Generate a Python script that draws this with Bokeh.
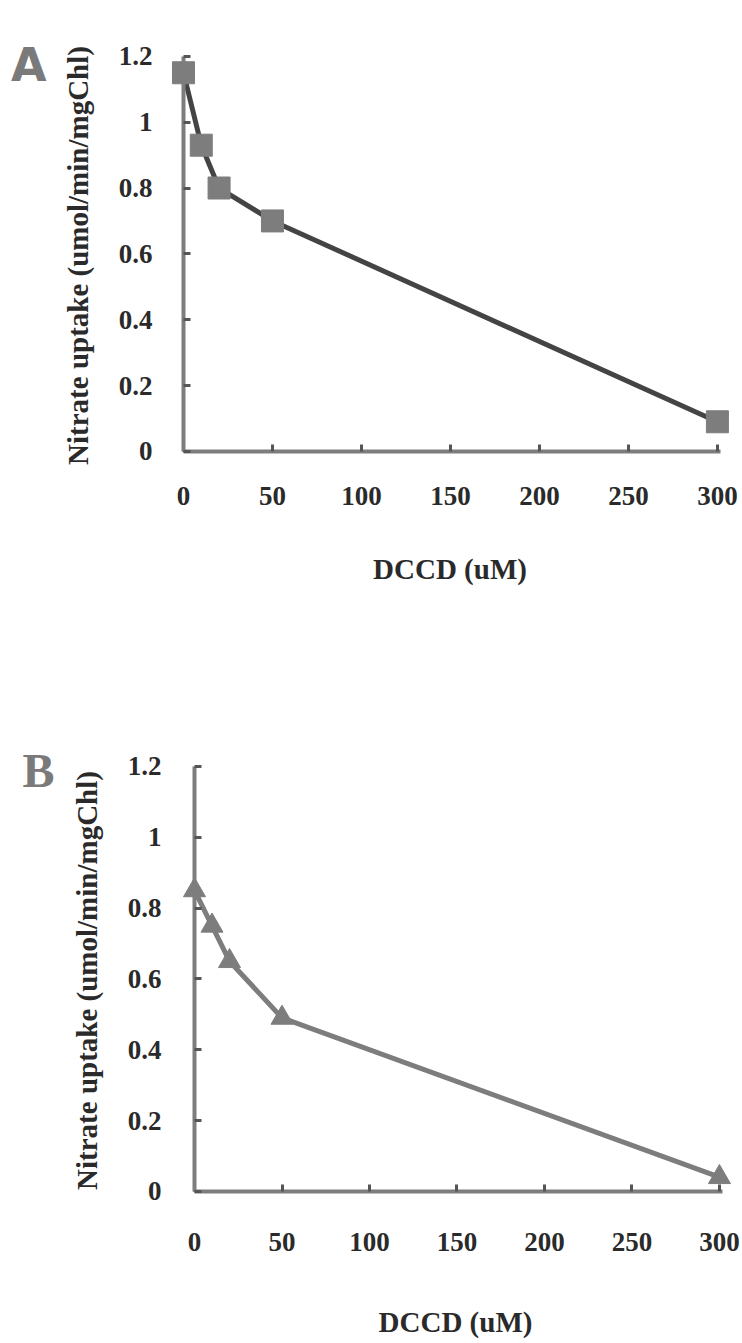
from bokeh.plotting import figure
from bokeh.models import Range1d, FixedTicker, NumeralTickFormatter, LinearAxis
from bokeh.embed import file_html
from bokeh.resources import INLINE

# ---- data ----
dccd_um = [0, 10, 20, 50, 300]
uptake_a = [1.15, 0.93, 0.80, 0.70, 0.09]
uptake_b = [0.85, 0.75, 0.65, 0.49, 0.04]
x_ticks = [0, 50, 100, 150, 200, 250, 300]
y_ticks = [0, 0.2, 0.4, 0.6, 0.8, 1.0, 1.2]
x_title = "DCCD (uM)"
y_title = "Nitrate uptake (umol/min/mgChl)"
panel_letters = ["A", "B"]

SERIF = "Liberation Serif"
GREY = "#7d7d7d"
TEXT = "#2a2a2a"


def style_text(ax):
    ax.major_label_text_font = SERIF
    ax.major_label_text_font_style = "bold"
    ax.major_label_text_font_size = "27px"
    ax.major_label_text_color = TEXT
    ax.axis_label_text_font = SERIF
    ax.axis_label_text_font_style = "bold"
    ax.axis_label_text_font_size = "29px"
    ax.axis_label_text_color = TEXT


def make_panel(yvals, marker, letter, height, x_rng, y_rng, borders,
               line_color, letter_spec, xstand, ystand):
    left, right, top, bottom = borders
    p = figure(width=742, height=height, output_backend="svg",
               toolbar_location=None,
               x_range=Range1d(*x_rng), y_range=Range1d(*y_rng),
               min_border_left=left, min_border_right=right,
               min_border_top=top, min_border_bottom=bottom)
    p.outline_line_color = None
    p.grid.visible = False
    p.background_fill_color = "white"
    p.border_fill_color = "white"

    # label-carrying axes at the frame edges (no line, no ticks)
    for ax in (p.xaxis, p.yaxis):
        style_text(ax)
        ax.axis_line_color = None
        ax.major_tick_line_color = None
        ax.minor_tick_line_color = None
    p.xaxis.ticker = FixedTicker(ticks=x_ticks)
    p.yaxis.ticker = FixedTicker(ticks=y_ticks)
    p.yaxis.formatter = NumeralTickFormatter(format="0.[0]")
    p.xaxis.axis_label = x_title
    p.yaxis.axis_label = y_title
    p.xaxis.major_label_standoff = xstand[0]
    p.xaxis.axis_label_standoff = xstand[1]
    p.yaxis.major_label_standoff = ystand[0]
    p.yaxis.axis_label_standoff = ystand[1]

    # axis lines + inward ticks drawn at x=0 / y=0
    fx = LinearAxis(fixed_location=0, ticker=FixedTicker(ticks=x_ticks),
                    bounds=(0, 302))
    fy = LinearAxis(fixed_location=0, ticker=FixedTicker(ticks=y_ticks),
                    bounds=(0, 1.2))
    for ax in (fx, fy):
        ax.axis_line_color = GREY
        ax.axis_line_width = 4
        ax.major_tick_line_color = "#555555"
        ax.major_tick_line_width = 3
        ax.major_tick_in = 7
        ax.major_tick_out = 0
        ax.minor_tick_line_color = None
        ax.major_label_text_font_size = "1px"
        ax.major_label_text_color = None
        ax.major_label_standoff = 0
    p.add_layout(fx, "below")
    p.add_layout(fy, "left")

    # panel letter, carried by an extra label-only axis
    ly, lstand, lfont, lsize = letter_spec
    la = LinearAxis(ticker=FixedTicker(ticks=[ly]),
                    major_label_overrides={ly: letter})
    la.axis_line_color = None
    la.major_tick_line_color = None
    la.minor_tick_line_color = None
    la.major_label_standoff = lstand
    la.major_label_text_font = lfont
    la.major_label_text_font_style = "bold"
    la.major_label_text_font_size = lsize
    la.major_label_text_color = "#7a7a7a"
    p.add_layout(la, "left")

    p.line(dccd_um, yvals, line_width=5, line_color=line_color)
    p.scatter(dccd_um, yvals, marker=marker, size=22,
              fill_color=GREY, line_color=GREY)
    return p


pa = make_panel(uptake_a, "square", panel_letters[0], 670,
                (-10.1, 309.6), (-0.058, 1.248), (165, 8, 40, 200),
                "#444444", (1.1725, 6, "DejaVu Sans", "46px"),
                (10, 45), (7, 22))
pb = make_panel(uptake_b, "triangle", panel_letters[1], 673,
                (-10.3, 308.6), (-0.054, 1.245), (176, 8, 80, 133),
                GREY, (1.189, 7, SERIF, "48px"),
                (16, 52), (9, 22))

open("out.html", "w").write(file_html([pa, pb], INLINE))
